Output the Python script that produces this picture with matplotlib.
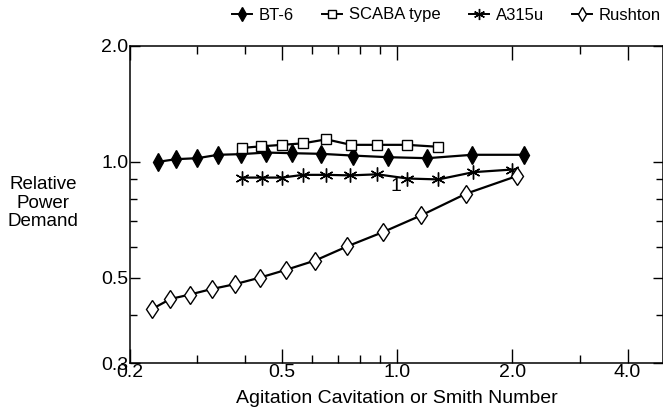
import matplotlib
matplotlib.use("Agg")
import matplotlib.pyplot as plt
from matplotlib.lines import Line2D
from matplotlib.ticker import FixedLocator, NullFormatter, FixedFormatter

plt.rcParams['font.family'] = ['Liberation Sans', 'DejaVu Sans']

# ---- data ----
bt6_x = [0.237, 0.264, 0.300, 0.340, 0.390, 0.454, 0.531, 0.632, 0.767, 0.947, 1.198, 1.571, 2.14]
bt6_y = [1.000, 1.016, 1.022, 1.043, 1.047, 1.057, 1.053, 1.049, 1.038, 1.028, 1.022, 1.043, 1.043]

scaba_x = [0.393, 0.440, 0.500, 0.567, 0.652, 0.756, 0.886, 1.060, 1.280]
scaba_y = [1.087, 1.097, 1.107, 1.117, 1.144, 1.107, 1.107, 1.107, 1.094]

a315_x = [0.393, 0.443, 0.500, 0.567, 0.652, 0.753, 0.886, 1.062, 1.280, 1.581, 2.00]
a315_y = [0.910, 0.910, 0.910, 0.925, 0.925, 0.922, 0.928, 0.905, 0.900, 0.940, 0.955]

rush_x = [0.228, 0.255, 0.287, 0.327, 0.377, 0.437, 0.512, 0.610, 0.740, 0.915, 1.155, 1.511, 2.057]
rush_y = [0.414, 0.440, 0.452, 0.467, 0.481, 0.500, 0.524, 0.554, 0.603, 0.656, 0.726, 0.826, 0.919]

series_names = ["BT-6", "SCABA type", "A315u", "Rushton"]

x_major = [0.2, 0.5, 1.0, 2.0, 4.0]
x_major_labels = ["0.2", "0.5", "1.0", "2.0", "4.0"]
x_minor = [0.3, 0.4, 0.6, 0.7, 0.8, 0.9, 3.0]
y_major = [0.3, 0.5, 1.0, 2.0]
y_major_labels = ["0.3", "0.5", "1.0", "2.0"]
y_minor = [0.4, 0.6, 0.7, 0.8, 0.9]

TICK_FS = 14
XLAB_FS = 14
YLAB_FS = 13.5
LEG_FS = 12

fig = plt.figure(figsize=(6.63, 4.15), dpi=100)
ax = fig.add_axes([130/663, (415-363)/415, 533/663, 317/415])

lw = 1.6
styles = [
    dict(marker='d', ms=9, mfc='black', mec='black', mew=1.0),
    dict(marker='s', ms=7.5, mfc='white', mec='black', mew=1.0),
    dict(marker=(6, 2, 0), ms=10, mfc='black', mec='black', mew=1.0),
    dict(marker='d', ms=9.5, mfc='white', mec='black', mew=1.0),
]
data = [(bt6_x, bt6_y), (scaba_x, scaba_y), (a315_x, a315_y), (rush_x, rush_y)]
handles = []
for (xs, ys), st, name in zip(data, styles, series_names):
    ax.plot(xs, ys, color='black', lw=lw, label=name, **st)
    st2 = dict(st)
    st2['ms'] = st['ms'] * 0.8
    handles.append(Line2D([], [], color='black', lw=1.4, **st2))

ax.set_xscale('log')
ax.set_yscale('log')
ax.set_xlim(0.2, 4.95)
ax.set_ylim(0.3, 2.0)

ax.xaxis.set_major_locator(FixedLocator(x_major))
ax.xaxis.set_major_formatter(FixedFormatter(x_major_labels))
ax.xaxis.set_minor_locator(FixedLocator(x_minor))
ax.xaxis.set_minor_formatter(NullFormatter())
ax.yaxis.set_major_locator(FixedLocator(y_major))
ax.yaxis.set_major_formatter(FixedFormatter(y_major_labels))
ax.yaxis.set_minor_locator(FixedLocator(y_minor))
ax.yaxis.set_minor_formatter(NullFormatter())

ax.tick_params(axis='both', which='both', direction='in', top=True, right=True, width=1.0, labelsize=TICK_FS, pad=1)
ax.tick_params(axis='x', which='major', length=10)
ax.tick_params(axis='x', which='minor', length=6)
ax.tick_params(axis='y', which='major', length=7)
ax.tick_params(axis='y', which='minor', length=5)
for s in ax.spines.values():
    s.set_linewidth(1.1)

ax.set_xlabel("Agitation Cavitation or Smith Number", fontsize=XLAB_FS, labelpad=6)
fig.text(43/663, 1-203/415, "Relative\nPower\nDemand", ha='center', va='center', fontsize=YLAB_FS, linespacing=1.15)

ax.text(0.99, 0.865, "1", ha='center', va='center', fontsize=TICK_FS)

fig.legend(handles, series_names, loc='center right', bbox_to_anchor=(661/663, 1-15/415), ncol=4,
           frameon=False, fontsize=LEG_FS, handlelength=1.2, handletextpad=0.4,
           columnspacing=1.7, borderpad=0, borderaxespad=0)

fig.savefig("out.png", dpi=100)
